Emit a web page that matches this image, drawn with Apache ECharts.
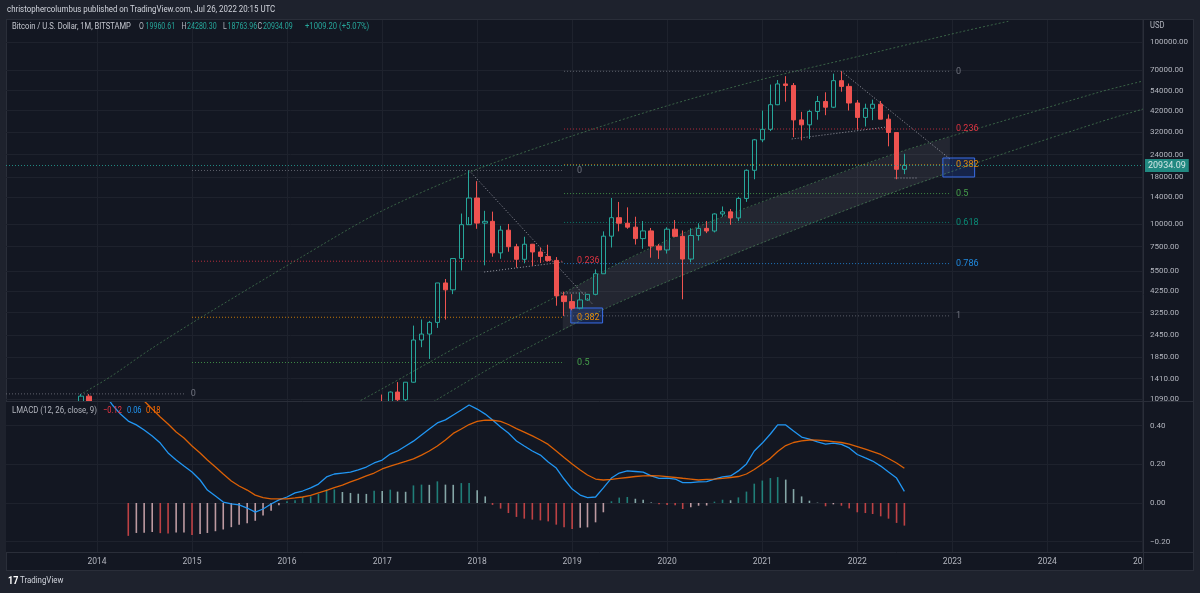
<!DOCTYPE html>
<html><head><meta charset="utf-8">
<script src="https://cdn.jsdelivr.net/npm/echarts@6.0.0/dist/echarts.min.js"></script>
<style>
html,body{margin:0;padding:0;background:#1e222d;overflow:hidden}
#frame{position:absolute;left:6px;top:19px;width:1186px;height:550px;background:#131722;border:1px solid #2a2e39}
#c{position:absolute;left:0;top:0;width:1200px;height:593px}
</style></head><body><div id="frame"></div><div id="c"></div>
<script>
// ---------- DATA ----------
const T = s => { const p = s.split('-').map(Number); return Date.UTC(p[0], p[1] - 1, p[2] || 1); };

// monthly bars 2013-11 .. 2022-07 (BITSTAMP BTC/USD, 1M)
const months = [];
for (let y = 2013, m = 10; y < 2022 || (y === 2022 && m <= 6);) {
  months.push(y + '-' + String(m + 1).padStart(2, '0') + '-01');
  m++; if (m === 12) { m = 0; y++; }
}
const opens = [204, 1130,
  732, 800, 550, 457, 447, 629, 638, 585, 478, 387, 338, 375,
  318, 217, 254, 244, 236, 230, 263, 284, 230, 236, 312, 378,
  430, 368, 437, 416, 448, 531, 673, 624, 573, 609, 698, 742,
  966, 965, 1190, 1080, 1348, 2300, 2480, 2875, 4735, 4340, 6450, 9900,
  13880, 10100, 10330, 6930, 9240, 7490, 6390, 7730, 7010, 6625, 6300, 4020,
  3740, 3440, 3820, 4100, 5320, 8560, 10820, 10090, 9600, 8300, 9150, 7550,
  7190, 9350, 8540, 6410, 8630, 9450, 9140, 11340, 11650, 10780, 13800, 19710,
  28990, 33110, 45200, 58800, 57700, 37300, 35040, 41500, 47100, 43800, 61300, 57000,
  46200, 38500, 43200, 45500, 37650, 31800, 19960.61];
const highs = [1163, 1160,
  1000, 860, 720, 550, 633, 680, 650, 600, 500, 414, 455, 386,
  322, 265, 300, 262, 248, 268, 317, 285, 243, 332, 502, 467,
  462, 446, 440, 468, 549, 777, 700, 625, 625, 720, 754, 977,
  1153, 1200, 1350, 1350, 2760, 2980, 2930, 4740, 4980, 6470, 11400, 19666,
  17180, 11800, 11680, 9760, 9990, 7770, 8500, 7760, 7410, 7680, 6570, 4240,
  4110, 4200, 4100, 5620, 9100, 13880, 13200, 12330, 10950, 10370, 9500, 7750,
  9580, 10500, 9200, 9460, 10080, 10380, 11440, 12470, 12070, 14100, 19940, 29300,
  41990, 58350, 61800, 64900, 59500, 41300, 42400, 50500, 52900, 67000, 69000, 59100,
  47950, 45800, 48200, 47400, 40000, 31980, 24280.30];
const lows = [195, 401,
  750, 420, 440, 340, 422, 555, 566, 440, 365, 275, 315, 300,
  152, 212, 235, 214, 225, 218, 253, 196, 225, 235, 304, 349,
  354, 365, 400, 414, 439, 525, 605, 480, 570, 604, 690, 742,
  752, 914, 891, 1060, 1340, 2100, 1810, 2680, 2980, 4110, 5550, 10900,
  9400, 5920, 6600, 6430, 7030, 5750, 6070, 5880, 6100, 6200, 3550, 3120,
  3350, 3390, 3780, 4050, 5320, 7420, 9100, 9400, 7700, 7300, 6520, 6420,
  6870, 8450, 3850, 6150, 8100, 8900, 8980, 10960, 9880, 10380, 13220, 17600,
  28130, 32380, 44950, 47000, 30000, 28800, 29300, 37400, 39600, 43300, 53300, 42000,
  32950, 34300, 37200, 37600, 26700, 17600, 18763.96];
const closes = [1130, 732,
  800, 550, 457, 447, 629, 638, 585, 478, 387, 338, 375, 318,
  217, 254, 244, 236, 230, 263, 284, 230, 236, 312, 378, 430,
  368, 437, 416, 448, 531, 673, 624, 573, 609, 698, 742, 966,
  965, 1190, 1080, 1348, 2300, 2480, 2875, 4735, 4340, 6450, 9900, 13880,
  10100, 10330, 6930, 9240, 7490, 6390, 7730, 7010, 6625, 6300, 4020, 3740,
  3440, 3820, 4100, 5320, 8560, 10820, 10090, 9600, 8300, 9150, 7550, 7190,
  9350, 8540, 6410, 8630, 9450, 9140, 11340, 11650, 10780, 13800, 19710, 28990,
  33110, 45200, 58800, 57700, 37300, 35040, 41500, 47100, 43800, 61300, 57000, 46200,
  38500, 43200, 45500, 37650, 31800, 19960.61, 20934.09];
const lastPrice = 20934.09;

// LMACD (12, 26, close, 9), monthly 2014-01 .. 2022-07
const macdMonths = months.slice(2);
const macdLine = [
  0.62, 0.56, 0.507, 0.46, 0.424, 0.404, 0.378, 0.347, 0.31, 0.259, 0.222, 0.191,
  0.16, 0.119, 0.067, 0.036, 0.005, -0.005, -0.01, -0.026, -0.047, -0.031, -0.005, 0.016,
  0.031, 0.052, 0.062, 0.078, 0.098, 0.135, 0.15, 0.155, 0.16, 0.171, 0.186, 0.207,
  0.222, 0.253, 0.269, 0.295, 0.32, 0.352, 0.383, 0.414, 0.43, 0.455, 0.481, 0.507,
  0.486, 0.46, 0.429, 0.393, 0.362, 0.321, 0.295, 0.269, 0.248, 0.212, 0.181, 0.124,
  0.072, 0.041, 0.028, 0.031, 0.078, 0.129, 0.155, 0.166, 0.163, 0.16, 0.14, 0.127,
  0.129, 0.124, 0.105, 0.105, 0.109, 0.111, 0.124, 0.135, 0.14, 0.166, 0.202, 0.269,
  0.31, 0.357, 0.404, 0.404, 0.372, 0.341, 0.331, 0.316, 0.305, 0.31, 0.303, 0.285,
  0.251, 0.233, 0.217, 0.191, 0.16, 0.129, 0.06];
const signalLine = [
  null, null, null, null, 0.60, 0.56, 0.528, 0.486, 0.445, 0.409, 0.367, 0.336,
  0.295, 0.259, 0.222, 0.186, 0.15, 0.114, 0.088, 0.067, 0.041, 0.028, 0.021, 0.021,
  0.021, 0.026, 0.031, 0.039, 0.052, 0.065, 0.08, 0.093, 0.109, 0.124, 0.14, 0.155,
  0.176, 0.191, 0.202, 0.215, 0.228, 0.248, 0.269, 0.295, 0.326, 0.36, 0.383, 0.406,
  0.422, 0.429, 0.428, 0.422, 0.406, 0.385, 0.367, 0.347, 0.326, 0.303, 0.269, 0.235,
  0.202, 0.171, 0.145, 0.124, 0.119, 0.122, 0.127, 0.132, 0.137, 0.14, 0.141, 0.14,
  0.136, 0.132, 0.128, 0.124, 0.119, 0.122, 0.124, 0.127, 0.132, 0.137, 0.15, 0.173,
  0.202, 0.231, 0.266, 0.297, 0.313, 0.321, 0.326, 0.325, 0.322, 0.318, 0.313, 0.305,
  0.292, 0.279, 0.266, 0.251, 0.23, 0.207, 0.18];
const histogram = [
  null, null, null, null, -0.17, -0.155, -0.154, -0.15, -0.156, -0.158, -0.153, -0.152,
  -0.165, -0.16, -0.155, -0.146, -0.137, -0.125, -0.112, -0.105, -0.092, -0.065, -0.04, -0.012,
  0.009, 0.014, 0.03, 0.034, 0.047, 0.069, 0.07, 0.057, 0.052, 0.048, 0.047, 0.064,
  0.062, 0.069, 0.059, 0.058, 0.091, 0.095, 0.094, 0.112, 0.095, 0.094, 0.103, 0.104,
  0.066, 0.034, -0.01, -0.029, -0.052, -0.072, -0.081, -0.086, -0.09, -0.095, -0.112, -0.126,
  -0.134, -0.128, -0.126, -0.1, -0.048, 0.009, 0.028, 0.031, 0.022, 0.017, 0.003, -0.007,
  -0.01, -0.011, -0.031, -0.022, -0.014, -0.013, 0.007, 0.017, 0.014, 0.029, 0.059, 0.1,
  0.116, 0.129, 0.134, 0.121, 0.072, 0.034, 0.012, 0.002, -0.017, -0.007, -0.014, -0.028,
  -0.048, -0.052, -0.057, -0.069, -0.081, -0.103, -0.117];

// axis ticks
const yearTicks = [2014, 2015, 2016, 2017, 2018, 2019, 2020, 2021, 2022, 2023, 2024, 2025];
const priceTicks = [1090, 1410, 1850, 2450, 3250, 4250, 5500, 7500, 10000, 14000, 18000, 24000, 32000, 42000, 54000, 70000, 100000];
const macdTicks = [-0.2, 0, 0.2, 0.4];

// Fibonacci retracements (levels / prices / date span)
const fib0Levels = ['0'];
const fib0Prices = [1163];
const fib0Span = ['2013-01-16', '2014-12-08'];
const fib1Levels = ['0', '0.236', '0.382', '0.5'];
const fib1Prices = [19666, 6236, 3067, 1730];
const fib1Span = ['2015-01-01', '2018-12-01'];
const fib2Levels = ['0', '0.236', '0.382', '0.5', '0.618', '0.786', '1'];
const fib2Prices = [69000, 33240, 21150, 14680, 10190, 6050, 3122];
const fib2Span = ['2018-12-01', '2022-12-23'];

// long trend curves [date, price]
const curveTop = [['2013-11-08', 1176], ['2014-02-20', 1440], ['2014-07-21', 2027], ['2015-02-01', 3039], ['2016-02-20', 6500], ['2016-12-23', 11630], ['2017-12-04', 19290], ['2018-11-15', 28920], ['2019-12-04', 43370], ['2020-12-22', 61820], ['2022-01-12', 83760], ['2023-02-01', 113500], ['2023-08-10', 130450]];
const curveMid = [['2016-07-21', 925], ['2016-12-23', 1221], ['2017-12-04', 2300], ['2018-11-15', 4070], ['2019-07-02', 6100], ['2020-05-06', 9740], ['2021-05-24', 15760], ['2022-06-13', 24850], ['2023-07-02', 36320], ['2024-07-21', 53110], ['2025-01-04', 61040]];
const curveLow = [['2017-05-25', 949], ['2017-07-28', 1077], ['2018-03-28', 1719], ['2019-04-28', 3363], ['2020-05-06', 5720], ['2021-05-24', 9500], ['2022-06-13', 15360], ['2023-07-02', 23920], ['2024-07-21', 36320], ['2025-01-04', 42820]];
const bandUpper = [['2018-11-26', 4143], ['2019-07-02', 6100], ['2020-05-06', 9740], ['2021-05-24', 15760], ['2022-06-13', 24850], ['2022-12-23', 30040]];
const bandLower = [['2018-11-26', 2591], ['2019-04-28', 3363], ['2019-07-02', 3720], ['2020-05-06', 5720], ['2021-05-24', 9500], ['2022-06-13', 15360], ['2022-12-23', 19170]];

// triangle / trend segments
const segments = [
  [['2017-12-01', 19666], ['2019-03-20', 3628]],
  [['2018-01-28', 5440], ['2018-11-26', 6170]],
  [['2018-10-26', 4170], ['2019-02-27', 4170]],
  [['2021-11-01', 69000], ['2022-12-23', 22740]],
  [['2021-04-24', 29290], ['2022-04-24', 34100]],
  [['2022-05-24', 17880], ['2022-08-21', 17880]]
];
// highlight boxes
const boxes = [
  [['2018-12-27', 3449], ['2019-04-28', 2853]],
  [['2022-11-26', 23030], ['2023-03-28', 18110]]
];

// ---------- STYLE ----------
const FF = 'Roboto, "Noto Sans", sans-serif';
const AX = '#b2b5be';
const GRIDC = '#1e222d';
const BG = '#131722';
const fibColors = { '0': '#787b86', '0.236': '#f23645', '0.382': '#ff9800', '0.5': '#4caf50', '0.618': '#089981', '0.786': '#2196f3', '1': '#787b86' };
const xMin = T('2013-01-16'), xMax = T('2025-01-07');
const yearTs = yearTicks.map(y => Date.UTC(y, 0, 1));

function fibSeries(levels, prices, span, gap) {
  return {
    type: 'custom', xAxisIndex: 0, yAxisIndex: 0, silent: true, z: 3,
    data: prices.map((p, i) => [T(span[0]), p, i]),
    encode: { x: 0, y: 1 },
    renderItem: (params, api) => {
      const i = api.value(2), p = prices[i];
      const a = api.coord([T(span[0]), p]), b = api.coord([T(span[1]), p]);
      const c = fibColors[levels[i]];
      return { type: 'group', children: [
        { type: 'line', shape: { x1: a[0], y1: a[1], x2: b[0], y2: b[1] }, style: { stroke: c, lineWidth: 1, lineDash: [1, 2], opacity: 0.75 } },
        { type: 'text', x: b[0] + gap, y: b[1], style: { text: levels[i], fill: c, font: '9px ' + FF, align: 'left', verticalAlign: 'middle', opacity: 0.9 } }
      ] };
    }
  };
}
function lineSeries(pts, color, dash, z) {
  return { type: 'line', xAxisIndex: 0, yAxisIndex: 0, silent: true, z: z, showSymbol: false, symbol: 'none',
    data: pts.map(p => [T(p[0]), p[1]]), lineStyle: { color: color, width: 1, type: dash }, smooth: 0.3 };
}

const series = [];
series.push({
  type: 'custom', xAxisIndex: 0, yAxisIndex: 0, silent: true, z: 1,
  data: [[T(bandUpper[0][0]), bandUpper[0][1]]], encode: { x: 0, y: 1 },
  renderItem: (params, api) => {
    const pts = bandUpper.map(p => api.coord([T(p[0]), p[1]]))
      .concat(bandLower.slice().reverse().map(p => api.coord([T(p[0]), p[1]])));
    return { type: 'polygon', shape: { points: pts }, style: { fill: 'rgba(200,200,215,0.09)' } };
  }
});
series.push(lineSeries(curveTop, 'rgba(90,160,100,0.55)', [2, 2], 2));
series.push(lineSeries(curveMid, 'rgba(90,160,100,0.55)', [2, 2], 2));
series.push(lineSeries(curveLow, 'rgba(90,160,100,0.55)', [2, 2], 2));
series.push({
  type: 'custom', xAxisIndex: 0, yAxisIndex: 0, silent: true, z: 2,
  data: boxes.map((b, i) => [T(b[0][0]), b[0][1], i]), encode: { x: 0, y: 1 },
  renderItem: (params, api) => {
    const b = boxes[api.value(2)];
    const a = api.coord([T(b[0][0]), b[0][1]]), c = api.coord([T(b[1][0]), b[1][1]]);
    return { type: 'rect', shape: { x: a[0], y: a[1], width: c[0] - a[0], height: c[1] - a[1] },
      style: { fill: 'rgba(41,98,255,0.18)', stroke: '#3a6ee8', lineWidth: 1 } };
  }
});
series.push(fibSeries(fib0Levels, fib0Prices, fib0Span, 5));
series.push(fibSeries(fib1Levels, fib1Prices, fib1Span, 13));
series.push(fibSeries(fib2Levels, fib2Prices, fib2Span, 6));
segments.forEach(s => {
  const ls = lineSeries(s, 'rgba(220,220,230,0.65)', [1, 2], 3); ls.smooth = false; series.push(ls);
});
series.push({
  type: 'candlestick', xAxisIndex: 0, yAxisIndex: 0, z: 4, barWidth: 5, clip: true,
  data: months.map((m, i) => [T(m), opens[i], closes[i], lows[i], highs[i]]),
  encode: { x: 0, y: [1, 2, 3, 4] },
  itemStyle: { color: 'transparent', color0: '#ef5350', borderColor: '#26a69a', borderColor0: '#ef5350', borderWidth: 1 },
  markLine: {
    silent: true, symbol: 'none', animation: false,
    data: [{ yAxis: lastPrice }],
    lineStyle: { color: '#26a69a', type: [1, 2], width: 1, opacity: 0.8 },
    label: { show: true, position: 'end', distance: 1, formatter: lastPrice.toFixed(2), color: '#ffffff',
      backgroundColor: '#26a69a', padding: [2, 3, 2, 3], fontSize: 9, fontFamily: FF }
  }
});
// LMACD pane lives on its own layer so it masks candle parts below the price pane
series.push({
  type: 'bar', xAxisIndex: 1, yAxisIndex: 1, barWidth: 1.6, silent: true, zlevel: 1,
  data: macdMonths.map((m, i) => {
    const v = histogram[i], pv = i > 0 ? histogram[i - 1] : null;
    let c;
    if (v == null) c = 'transparent';
    else if (v >= 0) c = (pv == null || v > pv) ? '#26a69a' : '#b2dfdb';
    else c = (pv == null || v < pv) ? '#ff5252' : '#ffcdd2';
    return { value: [T(m), v], itemStyle: { color: c, opacity: 0.72 } };
  })
});
series.push({ type: 'line', xAxisIndex: 1, yAxisIndex: 1, showSymbol: false, symbol: 'none', silent: true, zlevel: 1,
  data: macdMonths.map((m, i) => [T(m), macdLine[i]]), lineStyle: { color: '#2196f3', width: 1.3 } });
series.push({ type: 'line', xAxisIndex: 1, yAxisIndex: 1, showSymbol: false, symbol: 'none', silent: true, zlevel: 1,
  data: macdMonths.map((m, i) => [T(m), signalLine[i]]), lineStyle: { color: '#ff6d00', width: 1.3, opacity: 0.85 } });

function gtext(x, y, text, fill, size, sx, bold) {
  return { type: 'text', x: x, y: y, z: 50, zlevel: 1, scaleX: sx, silent: true,
    style: { text: text, fill: fill, font: (bold ? 'bold ' : '') + size + 'px ' + FF, verticalAlign: 'middle' } };
}
const TEAL = '#26a69a';
const L1 = 8.5, S1 = 0.83;
const graphics = [
  gtext(7, 10, 'christophercolumbus published on TradingView.com, Jul 26, 2022 20:15 UTC', '#d1d4dc', 9.5, 0.83),
  gtext(12, 27, 'Bitcoin / U.S. Dollar, 1M, BITSTAMP', '#c3c6ce', 9.5, 0.8),
  gtext(139, 27, 'O', AX, L1, S1), gtext(145.5, 27, '19960.61', TEAL, L1, S1),
  gtext(181.5, 27, 'H', AX, L1, S1), gtext(187, 27, '24280.30', TEAL, L1, S1),
  gtext(223, 27, 'L', AX, L1, S1), gtext(227.5, 27, '18763.96', TEAL, L1, S1),
  gtext(257.5, 27, 'C', AX, L1, S1), gtext(263, 27, '20934.09', TEAL, L1, S1),
  gtext(305, 27, '+1009.20 (+5.07%)', TEAL, 9, 0.85),
  gtext(12, 411, 'LMACD (12, 26, close, 9)', AX, 9, 0.87),
  gtext(103, 411, '\u22120.12', '#f23645', 9, 0.83),
  gtext(127, 411, '0.06', '#2196f3', 9, 0.83),
  gtext(146, 411, '0.18', '#ff6d00', 9, 0.83),
  gtext(1150, 26, 'USD', AX, 8.5, 0.9),
  gtext(8, 581, '17', '#ffffff', 10, 0.9, true),
  gtext(20, 581, 'TradingView', '#d1d4dc', 9.5, 0.83),
  { type: 'line', z: 40, zlevel: 1, silent: true, shape: { x1: 6, y1: 401.5, x2: 1193, y2: 401.5 }, style: { stroke: '#2a2e39', lineWidth: 1 } },
  { type: 'line', z: 40, zlevel: 1, silent: true, shape: { x1: 6, y1: 552.5, x2: 1193, y2: 552.5 }, style: { stroke: '#2a2e39', lineWidth: 1 } },
  { type: 'line', z: 40, zlevel: 1, silent: true, shape: { x1: 1143.5, y1: 19, x2: 1143.5, y2: 570 }, style: { stroke: '#2a2e39', lineWidth: 1 } },
  { type: 'rect', z: 45, zlevel: 1, silent: true, shape: { x: 1144, y: 553, width: 48, height: 16 }, style: { fill: BG } }
];

const option = {
  animation: false,
  backgroundColor: 'transparent',
  textStyle: { fontFamily: FF },
  grid: [
    { left: 6, right: 56, top: 20, height: 381 },
    { left: 6, right: 56, top: 402, height: 150, show: true, backgroundColor: BG, borderWidth: 0, zlevel: 1 }
  ],
  xAxis: [
    { type: 'value', gridIndex: 0, min: xMin, max: xMax, scale: true,
      axisLine: { show: false }, axisTick: { show: false, customValues: yearTs }, axisLabel: { show: false, customValues: yearTs },
      splitLine: { show: true, lineStyle: { color: GRIDC, width: 1 } } },
    { type: 'value', gridIndex: 1, min: xMin, max: xMax, scale: true, zlevel: 1,
      axisLine: { show: false }, axisTick: { show: false, customValues: yearTs },
      axisLabel: { customValues: yearTs, color: AX, fontSize: 8.5, margin: 5, hideOverlap: false,
        formatter: v => String(new Date(v + 86400000 * 10).getUTCFullYear()) },
      splitLine: { show: true, lineStyle: { color: GRIDC, width: 1 } } }
  ],
  yAxis: [
    { type: 'log', logBase: 10, gridIndex: 0, position: 'right', min: 1062.7, max: 132110,
      axisLine: { show: false }, axisTick: { show: false, customValues: priceTicks },
      axisLabel: { customValues: priceTicks, color: AX, fontSize: 8, margin: 6, formatter: v => Number(v).toFixed(2) },
      splitLine: { show: true, lineStyle: { color: GRIDC, width: 1 } } },
    { type: 'value', gridIndex: 1, position: 'right', min: -0.2535, max: 0.5225, zlevel: 1,
      axisLine: { show: false }, axisTick: { show: false, customValues: macdTicks },
      axisLabel: { customValues: macdTicks, color: AX, fontSize: 8, margin: 6,
        formatter: v => (v < 0 ? '\u2212' : '') + Math.abs(v).toFixed(2) },
      splitLine: { show: true, lineStyle: { color: GRIDC, width: 1 } } }
  ],
  graphic: { elements: graphics },
  series: series
};
const chart = echarts.init(document.getElementById('c'), null, { renderer: 'canvas' });
chart.setOption(option);
</script></body></html>
